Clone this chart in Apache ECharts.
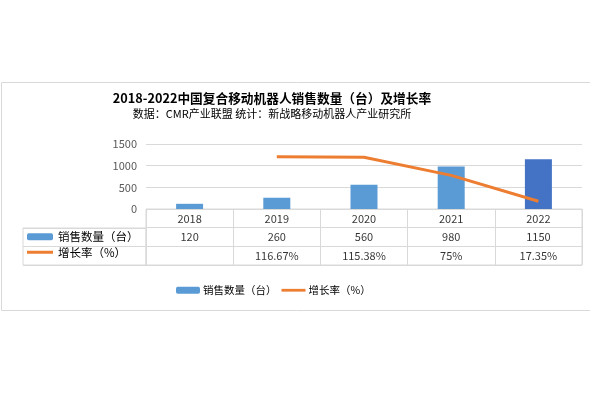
<!DOCTYPE html>
<html>
<head>
<meta charset="utf-8">
<script src="https://cdn.jsdelivr.net/npm/echarts@6/dist/echarts.min.js"></script>
<style>
html,body{margin:0;padding:0;background:#fff;}
#c{width:590px;height:395px;}
</style>
</head>
<body>
<div id="c"></div>
<script>
var years = ['2018', '2019', '2020', '2021', '2022'];
var sales = [120, 260, 560, 980, 1150];
var growth = [null, 116.67, 115.38, 75, 17.35];
var growthText = ['', '116.67%', '115.38%', '75%', '17.35%'];
var yTicks = [0, 500, 1000, 1500];
var salesName = '销售数量（台）';
var growthName = '增长率（%）';

var FONT = '"Noto Sans CJK SC", sans-serif';
var GRID = '#d9d9d9';

var tableCells = [];
years.forEach(function (y, i) {
  tableCells.push({ value: [i, 0], label: { formatter: y } });
  tableCells.push({ value: [i, 1], label: { formatter: String(sales[i]) } });
  if (growthText[i]) tableCells.push({ value: [i, 2], label: { formatter: growthText[i] } });
});

var barData = sales.map(function (v, i) {
  return i === sales.length - 1 ? { value: v, itemStyle: { color: '#4472C4' } } : v;
});

var legendItems = [
  { name: salesName },
  { name: growthName, icon: 'path://M0,0 L26,0 L26,3 L0,3 Z' }
];

var chart = echarts.init(document.getElementById('c'));
chart.setOption({
  animation: false,
  textStyle: { fontFamily: FONT },
  graphic: [{
    type: 'rect', shape: { x: 1.5, y: 82.5, width: 620, height: 228 },
    style: { fill: 'none', stroke: GRID, lineWidth: 1 }, silent: true, z: -10
  }],
  title: {
    text: '2018-2022中国复合移动机器人销售数量（台）及增长率',
    subtext: '数据：CMR产业联盟 统计：新战略移动机器人产业研究所',
    left: 272, top: 92, textAlign: 'center', itemGap: 4, padding: 0,
    textStyle: { fontFamily: FONT, fontSize: 12.7, fontWeight: 'bold', color: '#000' },
    subtextStyle: { fontFamily: FONT, fontSize: 11, color: '#000' }
  },
  legend: [{
    data: legendItems,
    orient: 'horizontal', left: 176, top: 285, padding: 0,
    itemWidth: 24, itemHeight: 7, itemGap: 5, symbolKeepAspect: true,
    textStyle: { fontFamily: FONT, fontSize: 10.5, color: '#000', padding: [0, 0, 0, -2] }
  }, {
    data: legendItems,
    orient: 'vertical', left: 27, top: 231, padding: 0,
    itemWidth: 26, itemHeight: 7, itemGap: 4, symbolKeepAspect: true,
    textStyle: { fontFamily: FONT, fontSize: 11.5, color: '#000' }
  }],
  grid: [
    { left: 146, right: 8, top: 144, height: 65 },
    { left: 146, right: 8, top: 209, height: 56, show: true, borderColor: GRID, borderWidth: 1 },
    { left: 23, width: 123, top: 228, height: 37, show: true, borderColor: GRID, borderWidth: 1 }
  ],
  xAxis: [
    { type: 'category', gridIndex: 0, data: years, axisLine: { show: false }, axisTick: { show: false }, axisLabel: { show: false } },
    { type: 'category', gridIndex: 1, data: years, axisLine: { show: false }, axisTick: { show: false }, axisLabel: { show: false },
      splitLine: { show: true, lineStyle: { color: GRID } } },
    { type: 'value', gridIndex: 2, show: false }
  ],
  yAxis: [
    { type: 'value', gridIndex: 0, min: yTicks[0], max: yTicks[yTicks.length - 1], interval: yTicks[1] - yTicks[0],
      axisLine: { show: false }, axisTick: { show: false },
      axisLabel: { fontFamily: FONT, fontSize: 11, color: '#595959', margin: 9, formatter: function (v) { return String(v); } },
      splitLine: { lineStyle: { color: GRID } } },
    { type: 'value', gridIndex: 0, min: 0, max: 145, show: false, splitLine: { show: false } },
    { type: 'category', gridIndex: 1, data: ['a', 'b', 'c'], inverse: true,
      axisLine: { show: false }, axisTick: { show: false }, axisLabel: { show: false },
      splitLine: { show: true, lineStyle: { color: GRID } } },
    { type: 'category', gridIndex: 2, data: ['b', 'c'], inverse: true,
      axisLine: { show: false }, axisTick: { show: false }, axisLabel: { show: false },
      splitLine: { show: true, lineStyle: { color: GRID } } }
  ],
  series: [
    { name: salesName, type: 'bar', xAxisIndex: 0, yAxisIndex: 0, data: barData, barWidth: 27,
      itemStyle: { color: '#5B9BD5' } },
    { name: growthName, type: 'line', xAxisIndex: 0, yAxisIndex: 1, data: growth, symbol: 'none',
      lineStyle: { color: '#ED7D31', width: 3 }, itemStyle: { color: '#ED7D31' } },
    { name: 'table', type: 'scatter', xAxisIndex: 1, yAxisIndex: 2, data: tableCells, symbolSize: 1,
      itemStyle: { color: 'transparent' }, silent: true,
      label: { show: true, position: 'inside', fontFamily: FONT, fontSize: 11, color: '#000' } }
  ]
});
</script>
</body>
</html>
